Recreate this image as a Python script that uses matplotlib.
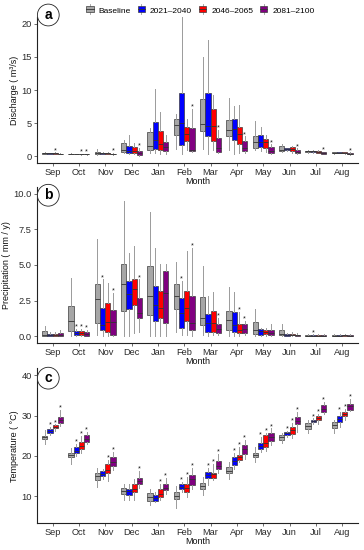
import matplotlib
matplotlib.use("Agg")
import matplotlib.pyplot as plt
from matplotlib.legend_handler import HandlerBase
from matplotlib.patches import Rectangle
from matplotlib.lines import Line2D
import numpy as np

plt.rcParams['font.family'] = ['Liberation Sans', 'DejaVu Sans']

months = ["Sep", "Oct", "Nov", "Dec", "Jan", "Feb", "Mar", "Apr", "May", "Jun", "Jul", "Aug"]
groups = ["Baseline", "2021\u20132040", "2046\u20132065", "2081\u20132100"]
colors = ["#a6a6a6", "#0000ff", "#ff0000", "#800080"]

# each row = month, columns = Baseline, 2021-2040, 2046-2065, 2081-2100
# (a) discharge
dis_lo = [[0.35, 0.35, 0.35, 0.30], [0.30, 0.30, 0.28, 0.28], [0.25, 0.30, 0.30, 0.25],
          [0.50, 0.30, 0.30, 0.10], [0.50, 0.50, 0.30, 0.40], [1.10, 0.30, 1.00, 0.70],
          [1.15, 0.30, 0.90, 0.50], [1.00, 0.30, 0.50, 0.50], [0.90, 0.80, 0.70, 0.40],
          [0.60, 0.80, 0.50, 0.40], [0.55, 0.55, 0.45, 0.30], [0.40, 0.45, 0.40, 0.25]]
dis_q1 = [[0.40, 0.40, 0.40, 0.35], [0.32, 0.33, 0.32, 0.30], [0.40, 0.35, 0.35, 0.30],
          [0.65, 0.50, 0.50, 0.15], [1.00, 1.05, 0.90, 0.75], [3.20, 1.65, 2.30, 0.80],
          [3.80, 3.10, 2.30, 0.70], [3.00, 2.40, 1.90, 0.75], [1.30, 1.40, 1.25, 0.55],
          [0.80, 0.95, 0.80, 0.50], [0.65, 0.65, 0.55, 0.40], [0.45, 0.50, 0.45, 0.30]]
dis_med = [[0.45, 0.45, 0.45, 0.38], [0.35, 0.35, 0.35, 0.33], [0.55, 0.45, 0.45, 0.35],
           [0.90, 0.80, 0.85, 0.45], [1.55, 2.40, 1.80, 1.40], [4.70, 5.10, 3.30, 1.00],
           [4.90, 4.60, 4.60, 1.30], [4.00, 4.10, 3.40, 1.20], [2.10, 2.20, 2.20, 0.80],
           [1.00, 1.05, 1.10, 0.70], [0.75, 0.75, 0.70, 0.50], [0.55, 0.55, 0.55, 0.40]]
dis_q3 = [[0.50, 0.50, 0.50, 0.42], [0.38, 0.38, 0.37, 0.36], [0.70, 0.55, 0.55, 0.40],
          [2.00, 1.55, 1.40, 0.80], [3.70, 5.20, 3.80, 2.15], [5.60, 9.50, 4.50, 4.20],
          [8.70, 9.60, 7.10, 2.75], [5.45, 5.70, 4.50, 2.30], [3.05, 3.20, 2.65, 1.40],
          [1.50, 1.20, 1.35, 0.90], [0.85, 0.85, 0.80, 0.60], [0.60, 0.60, 0.60, 0.50]]
dis_hi = [[0.60, 0.55, 0.60, 0.50], [0.45, 0.42, 0.42, 0.40], [1.10, 0.70, 0.65, 0.50],
          [2.50, 3.20, 2.00, 1.30], [4.20, 10.2, 6.70, 3.20], [6.40, 21.3, 5.70, 7.20],
          [15.0, 17.6, 9.30, 4.00], [8.80, 7.60, 7.80, 3.00], [5.30, 4.40, 3.20, 1.80],
          [1.90, 1.30, 1.60, 1.20], [0.95, 0.90, 0.90, 0.70], [0.70, 0.65, 0.65, 0.60]]
dis_sig = [[0, 0, 1, 0], [0, 0, 1, 1], [0, 0, 0, 1], [0, 0, 0, 1], [0, 0, 0, 0], [0, 0, 0, 1],
           [0, 0, 0, 1], [0, 0, 0, 1], [0, 0, 0, 1], [0, 0, 0, 1], [0, 0, 0, 1], [0, 0, 0, 1]]

# (b) precipitation
pre_lo = [[0, 0, 0, 0], [0, 0, 0, 0], [0.05, 0, 0, 0], [0, 0, 0.2, 0.3], [0, 0, 0, 0],
          [0.3, 0.1, 0.1, 0], [0.1, 0, 0.1, 0.05], [0, 0, 0, 0.05], [0, 0, 0, 0],
          [0, 0, 0, 0], [0, 0, 0, 0], [0, 0, 0, 0]]
pre_q1 = [[0.0, 0.0, 0.0, 0.0], [0.35, 0.05, 0.05, 0.0], [0.95, 0.45, 0.26, 0.05],
          [1.80, 1.90, 2.20, 1.30], [1.50, 1.05, 1.25, 0.90], [1.90, 0.60, 1.05, 0.40],
          [0.80, 0.30, 0.30, 0.20], [0.40, 0.30, 0.20, 0.25], [0.15, 0.05, 0.15, 0.05],
          [0.05, 0.02, 0.05, 0.02], [0.02, 0.02, 0.02, 0.02], [0.02, 0.02, 0.02, 0.02]]
pre_med = [[0.05, 0.05, 0.05, 0.10], [1.05, 0.20, 0.20, 0.15], [2.60, 0.80, 0.98, 1.00],
           [3.65, 2.95, 3.30, 1.65], [2.80, 2.20, 2.00, 3.05], [2.85, 1.65, 2.00, 0.95],
           [1.30, 0.90, 0.95, 0.50], [1.15, 0.80, 0.45, 0.50], [0.45, 0.35, 0.30, 0.20],
           [0.15, 0.07, 0.10, 0.05], [0.04, 0.04, 0.04, 0.04], [0.04, 0.04, 0.05, 0.04]]
pre_q3 = [[0.35, 0.15, 0.15, 0.25], [2.10, 0.35, 0.35, 0.30], [3.70, 2.00, 2.30, 1.85],
          [5.10, 3.90, 4.00, 2.70], [4.90, 3.50, 3.20, 4.60], [3.70, 2.65, 3.20, 2.85],
          [2.75, 1.55, 1.80, 0.85], [1.80, 1.70, 0.85, 0.85], [1.00, 0.50, 0.45, 0.40],
          [0.40, 0.12, 0.15, 0.10], [0.07, 0.07, 0.07, 0.07], [0.07, 0.07, 0.09, 0.07]]
pre_hi = [[0.70, 0.30, 0.30, 0.45], [4.10, 0.50, 0.50, 0.45], [6.80, 4.00, 3.75, 3.05],
          [9.50, 5.85, 6.30, 4.00], [8.70, 6.20, 5.10, 5.10], [5.20, 3.90, 6.00, 6.20],
          [4.90, 2.85, 3.10, 1.30], [3.45, 3.10, 1.70, 1.10], [1.90, 0.60, 0.55, 0.85],
          [0.85, 0.20, 0.30, 0.20], [0.12, 0.12, 0.12, 0.12], [0.12, 0.12, 0.15, 0.12]]
pre_sig = [[0, 0, 0, 0], [0, 1, 1, 1], [0, 1, 0, 1], [0, 0, 0, 1], [0, 0, 0, 0], [0, 1, 0, 1],
           [0, 0, 0, 1], [0, 0, 1, 1], [0, 0, 0, 0], [0, 0, 0, 0], [0, 1, 0, 0], [0, 0, 0, 0]]

# (c) temperature
tmp_lo = [[22.9, 25.2, 26.3, 27.3], [18.0, 19.9, 20.8, 22.9], [12.3, 14.2, 13.8, 16.6],
          [9.0, 9.0, 9.0, 12.0], [7.8, 8.5, 9.0, 10.5], [7.0, 11.0, 9.8, 11.8],
          [10.3, 12.8, 14.0, 15.8], [14.2, 16.7, 18.6, 19.3], [18.6, 21.0, 21.3, 22.6],
          [23.1, 24.8, 24.4, 26.0], [25.8, 27.8, 27.9, 30.3], [25.8, 27.2, 28.9, 31.2]]
tmp_q1 = [[24.2, 25.8, 26.8, 28.2], [19.6, 20.7, 21.8, 23.5], [14.0, 15.0, 15.8, 17.5],
          [10.6, 10.4, 11.0, 12.9], [8.75, 8.75, 9.8, 11.4], [9.2, 11.7, 11.0, 12.7],
          [11.8, 14.6, 14.4, 16.7], [15.7, 17.7, 18.9, 20.4], [19.6, 21.7, 22.1, 23.7],
          [24.0, 25.2, 25.4, 27.9], [26.7, 28.3, 29.0, 30.8], [26.8, 28.5, 29.8, 31.5]]
tmp_med = [[24.6, 26.2, 27.2, 28.9], [20.2, 21.3, 22.5, 24.2], [14.9, 15.5, 16.6, 18.5],
           [11.3, 11.2, 11.8, 13.7], [9.7, 9.6, 10.5, 12.1], [10.0, 12.2, 12.1, 14.2],
           [12.5, 15.3, 15.4, 17.6], [16.3, 18.7, 19.6, 21.7], [20.3, 22.4, 23.3, 24.8],
           [24.6, 25.6, 26.4, 28.7], [27.5, 28.6, 29.4, 31.6], [27.6, 29.1, 30.3, 32.3]]
tmp_q3 = [[25.0, 26.7, 27.6, 29.6], [20.8, 22.1, 23.5, 25.2], [15.8, 16.2, 17.9, 19.7],
          [11.9, 11.8, 12.9, 14.6], [10.7, 10.4, 11.7, 12.9], [11.1, 12.9, 13.1, 15.3],
          [13.3, 16.0, 15.8, 18.7], [17.3, 19.6, 20.3, 22.7], [20.8, 23.1, 25.2, 25.8],
          [25.2, 26.0, 27.1, 29.6], [28.2, 29.0, 29.9, 32.7], [28.3, 30.0, 31.0, 32.9]]
tmp_hi = [[26.5, 27.2, 27.8, 31.5], [22.0, 23.0, 25.0, 26.0], [17.0, 16.8, 19.0, 21.0],
          [13.0, 12.9, 14.3, 16.3], [11.8, 11.0, 13.0, 14.5], [12.4, 13.6, 14.8, 17.0],
          [14.8, 17.0, 18.0, 20.5], [18.5, 20.8, 22.2, 23.9], [22.3, 24.7, 25.8, 26.8],
          [25.8, 26.2, 28.2, 31.0], [28.8, 29.3, 30.4, 33.4], [29.0, 31.0, 31.7, 34.2]]
tmp_sig = [[0, 1, 1, 1], [0, 1, 1, 1], [0, 0, 1, 1], [0, 0, 0, 1], [0, 0, 1, 1], [0, 1, 1, 1],
           [0, 1, 1, 1], [0, 1, 1, 1], [0, 1, 1, 1], [0, 1, 1, 1], [0, 1, 1, 1], [0, 1, 1, 1]]

W, H = 364, 550
fig = plt.figure(figsize=(W / 100, H / 100), dpi=100)

offsets = [-0.3, -0.1, 0.1, 0.3]
box_w = 0.2
x = np.arange(1, 13)


def panel(rect, lo, q1, med, q3, hi, sig, ylim, yticks, ylabels, ylabel, tag):
    ax = fig.add_axes(rect)
    for g in range(4):
        stats = []
        for m in range(12):
            stats.append(dict(med=med[m][g], q1=q1[m][g], q3=q3[m][g],
                              whislo=lo[m][g], whishi=hi[m][g], fliers=[]))
        ax.bxp(stats, positions=x + offsets[g], widths=box_w, patch_artist=True,
               showcaps=False, showfliers=False,
               boxprops=dict(facecolor=colors[g], edgecolor="#3c3c3c", linewidth=0.5),
               whiskerprops=dict(color="#9a9a9a", linewidth=0.7),
               medianprops=dict(color="#333333", linewidth=0.6))
        for m in range(12):
            if sig[m][g]:
                ax.annotate("*", (x[m] + offsets[g], hi[m][g]), xytext=(0, -1.2),
                            textcoords="offset points", ha="center", va="bottom",
                            fontsize=5.2, color="#111111", annotation_clip=False)
    ax.set_xlim(0.4, 12.6)
    ax.set_ylim(*ylim)
    ax.set_xticks(x)
    ax.set_xticklabels(months)
    ax.set_yticks(yticks)
    ax.set_yticklabels(ylabels)
    ax.tick_params(labelsize=6.7, length=2, width=0.5, color="#333333",
                   labelcolor="#2b2b2b", pad=1.5)
    for s in ["top", "right"]:
        ax.spines[s].set_visible(False)
    for s in ["left", "bottom"]:
        ax.spines[s].set_linewidth(0.8)
        ax.spines[s].set_color("#222222")
    ax.set_xlabel("Month", fontsize=6.5, labelpad=0, color="#111111")
    ax.set_ylabel(ylabel, fontsize=6.5, labelpad=2, color="#111111")
    ax.patch.set_alpha(0)
    ax.text(0.84, tag[1], tag[0], ha="center", va="center", fontsize=10,
            fontweight="bold", clip_on=False,
            bbox=dict(boxstyle="circle,pad=0.28", fc="white", ec="#222222", lw=0.6))
    return ax


def frect(left, right, top, bottom):
    return [left / W, 1 - bottom / H, (right - left) / W, (bottom - top) / H]


ax_a = panel(frect(36.7, 358, 17, 163), dis_lo, dis_q1, dis_med, dis_q3, dis_hi, dis_sig,
             (-1, 21), [0, 5, 10, 15, 20], ["0", "5", "10", "15", "20"],
             "Discharge ( m\u00b3/s)", ("a", 21.3))
ax_b = panel(frect(36.7, 358, 186.7, 343.3), pre_lo, pre_q1, pre_med, pre_q3, pre_hi, pre_sig,
             (-0.5, 10.5), [0, 2.5, 5, 7.5, 10], ["0.0", "2.5", "5.0", "7.5", "10.0"],
             "Precipitation ( mm / y)", ("b", 9.9))
ax_c = panel(frect(36.7, 358, 368.3, 523.3), tmp_lo, tmp_q1, tmp_med, tmp_q3, tmp_hi, tmp_sig,
             (3.25, 41.75), [10, 20, 30, 40], ["10", "20", "30", "40"],
             "Temperature ( \u00b0C)", ("c", 39.3))


class BoxKey(HandlerBase):
    def create_artists(self, legend, orig, xd, yd, width, height, fontsize, trans):
        cx = xd + width / 2
        r = Rectangle((xd + width * 0.1, yd + height * 0.05), width * 0.8, height * 0.9,
                      facecolor=orig.get_facecolor(), edgecolor="#3c3c3c", lw=0.5,
                      transform=trans)
        m = Line2D([xd + width * 0.1, xd + width * 0.9], [yd + height / 2] * 2,
                   color="#333333", lw=0.6, transform=trans)
        w1 = Line2D([cx, cx], [yd - height * 0.2, yd + height * 0.05], color="#9a9a9a",
                    lw=0.6, transform=trans)
        w2 = Line2D([cx, cx], [yd + height * 0.95, yd + height * 1.2], color="#9a9a9a",
                    lw=0.6, transform=trans)
        return [w1, w2, r, m]


handles = [Rectangle((0, 0), 1, 1, facecolor=c) for c in colors]
leg = fig.legend(handles, groups, handler_map={Rectangle: BoxKey()}, loc="center",
                 bbox_to_anchor=(200 / W, 1 - 11 / H), ncol=4, frameon=False,
                 fontsize=6.0, handlelength=1.1, handleheight=0.9, handletextpad=0.5,
                 columnspacing=0.7, borderpad=0)

fig.savefig("out.png", dpi=100)
